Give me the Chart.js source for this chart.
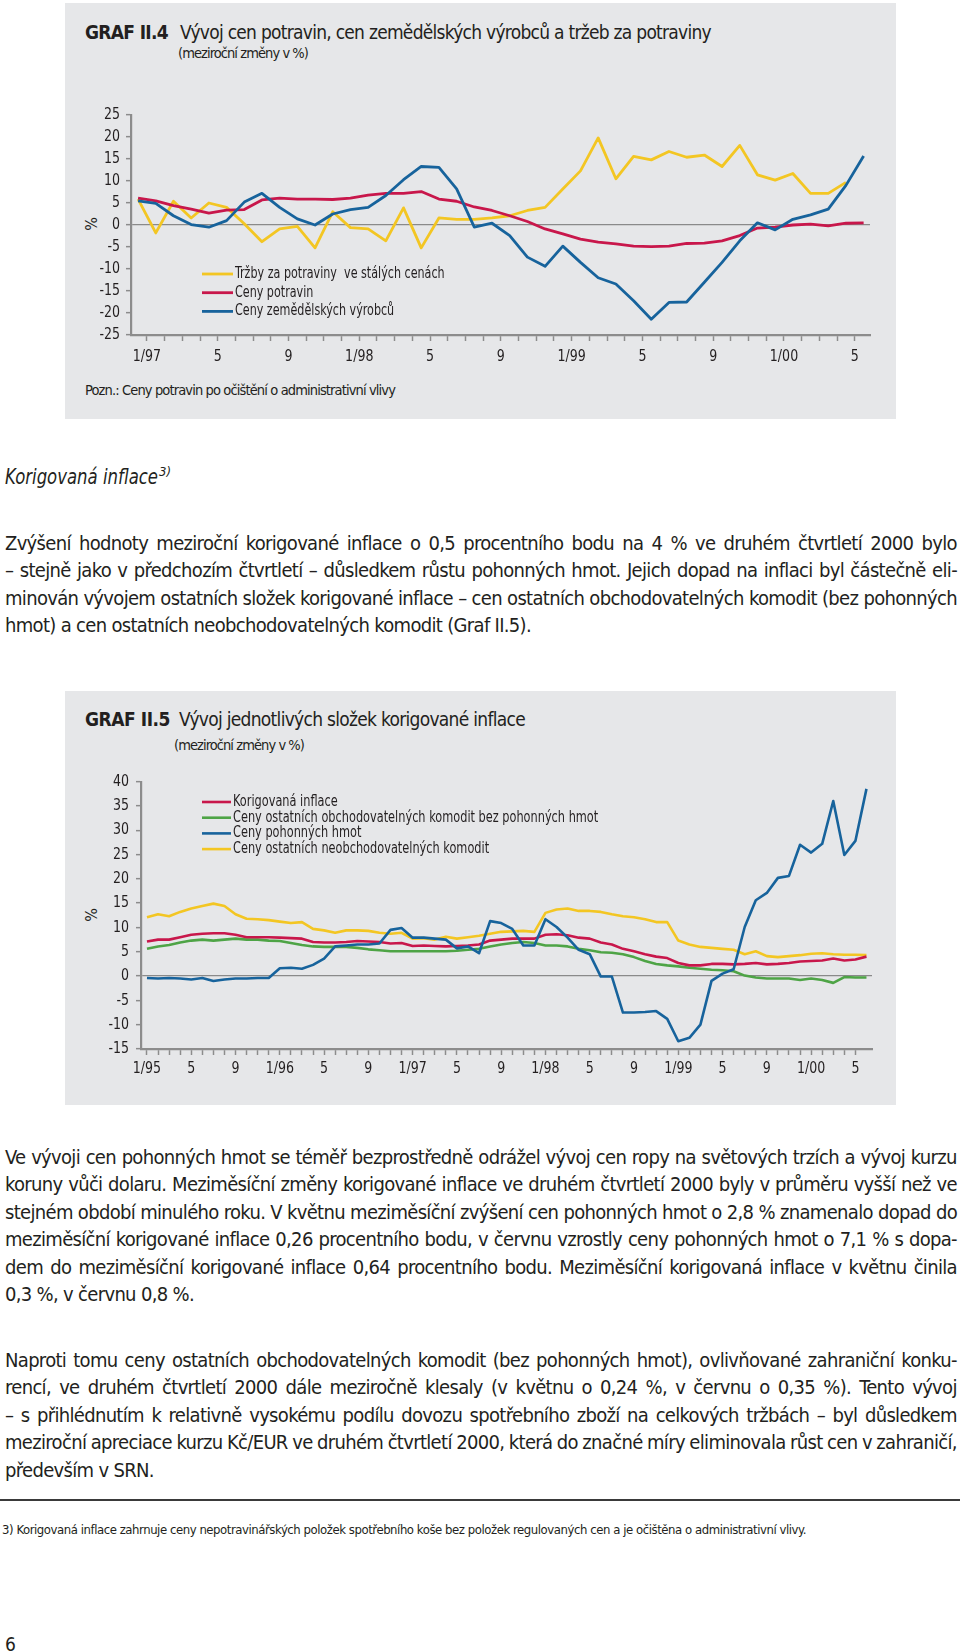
<!DOCTYPE html>
<html lang="cs"><head><meta charset="utf-8">
<title>Graf II.4 a II.5</title>
<script src="https://cdn.jsdelivr.net/npm/chart.js@4.4.1/dist/chart.umd.min.js"></script>
<style>
html,body{margin:0;padding:0;background:#fff}
body{position:relative;width:960px;height:1652px;overflow:hidden;font-family:"Liberation Sans Narrow","Arial Narrow","DejaVu Sans Condensed",sans-serif;color:#231f20}
.abs{position:absolute;white-space:nowrap}
.panel{position:absolute;left:65px;width:831px;background:#e6e7e9}
.ttlb{font-weight:bold;font-size:19px;line-height:24px}
.ttl{font-size:19px;line-height:24px}
.sub{font-size:14.5px;line-height:18px}
.pct{font-size:16px;line-height:18px;width:14px;text-align:center;transform:rotate(-90deg)}
.para{position:absolute;left:5px;width:952px;font-size:20px}
.para .ln{height:27.4px;line-height:27.4px;white-space:nowrap}
.para .jl{display:flex;justify-content:space-between}
canvas{position:absolute}
</style></head><body>

<div class="panel" style="top:3px;height:416px"></div>
<div class="panel" style="top:691px;height:414px"></div>

<span class="abs ttlb" id="t1b" style="left:85px;top:20px">GRAF II.4</span>
<span class="abs ttl" id="t1" style="left:180px;top:20px">Vývoj cen potravin, cen zemědělských výrobců a tržeb za potraviny</span>
<span class="abs sub" id="s1" style="left:178px;top:44px">(meziroční změny v %)</span>
<div class="abs pct" style="left:85px;top:215px">%</div>
<span class="abs sub" id="pozn" style="left:85px;top:381px">Pozn.: Ceny potravin po očištění o administrativní vlivy</span>

<span class="abs ttlb" id="t2b" style="left:85px;top:707px">GRAF II.5</span>
<span class="abs ttl" id="t2" style="left:179px;top:707px">Vývoj jednotlivých složek korigované inflace</span>
<span class="abs sub" id="s2" style="left:174px;top:736px">(meziroční změny v %)</span>
<div class="abs pct" style="left:85px;top:906px">%</div>

<canvas id="c1" width="831" height="275" style="left:65px;top:100px;width:831px;height:275px"></canvas>
<canvas id="c2" width="831" height="329" style="left:65px;top:760px;width:831px;height:329px"></canvas>

<span class="abs" style="left:5px;top:462px;font-size:22px;line-height:30px;font-style:italic"><span id="head" style="display:inline-block;transform-origin:0 50%">Korigovaná inflace</span><sup id="headsup" style="position:absolute;top:2px;font-size:13px;line-height:16px">3)</sup></span>

<div class="para" style="top:530px">
<div class="ln jl">Zvýšení hodnoty meziroční korigované inflace o 0,5 procentního bodu na 4 % ve druhém čtvrtletí 2000 bylo</div>
<div class="ln jl">– stejně jako v předchozím čtvrtletí – důsledkem růstu pohonných hmot. Jejich dopad na inflaci byl částečně eli-</div>
<div class="ln jl">minován vývojem ostatních složek korigované inflace – cen ostatních obchodovatelných komodit (bez pohonných</div>
<div class="ln"><span id="p1last">hmot) a cen ostatních neobchodovatelných komodit (Graf II.5).</span></div>
</div>

<div class="para" style="top:1144px">
<div class="ln jl">Ve vývoji cen pohonných hmot se téměř bezprostředně odrážel vývoj cen ropy na světových trzích a vývoj kurzu</div>
<div class="ln jl">koruny vůči dolaru. Meziměsíční změny korigované inflace ve druhém čtvrtletí 2000 byly v průměru vyšší než ve</div>
<div class="ln jl">stejném období minulého roku. V květnu meziměsíční zvýšení cen pohonných hmot o 2,8 % znamenalo dopad do</div>
<div class="ln jl">meziměsíční korigované inflace 0,26 procentního bodu, v červnu vzrostly ceny pohonných hmot o 7,1 % s dopa-</div>
<div class="ln jl">dem do meziměsíční korigované inflace 0,64 procentního bodu. Meziměsíční korigovaná inflace v květnu činila</div>
<div class="ln">0,3 %, v červnu 0,8 %.</div>
</div>

<div class="para" style="top:1347px">
<div class="ln jl">Naproti tomu ceny ostatních obchodovatelných komodit (bez pohonných hmot), ovlivňované zahraniční konku-</div>
<div class="ln jl">rencí, ve druhém čtvrtletí 2000 dále meziročně klesaly (v květnu o 0,24 %, v červnu o 0,35 %). Tento vývoj</div>
<div class="ln jl">– s přihlédnutím k relativně vysokému podílu dovozu spotřebního zboží na celkových tržbách – byl důsledkem</div>
<div class="ln jl">meziroční apreciace kurzu Kč/EUR ve druhém čtvrtletí 2000, která do značné míry eliminovala růst cen v zahraničí,</div>
<div class="ln">především v SRN.</div>
</div>

<div class="abs" style="left:0;top:1499px;width:960px;height:1.6px;background:#3a3a3a"></div>
<span class="abs" id="foot" style="left:2px;top:1522px;font-size:13px;line-height:16px">3) Korigovaná inflace zahrnuje ceny nepotravinářských položek spotřebního koše bez položek regulovaných cen a je očištěna o administrativní vlivy.</span>
<span class="abs" style="left:5px;top:1633px;font-size:19px;line-height:22px">6</span>

<script>
// ---------- text fitting to reference widths ----------
function fit(id, target){
  const el = document.getElementById(id);
  el.style.letterSpacing = '0px';
  const w = el.getBoundingClientRect().width;
  el.style.letterSpacing = ((target - w) / el.textContent.length) + 'px';
}
fit('t1b', 83); fit('t1', 531); fit('s1', 130);
fit('t2b', 85); fit('t2', 346); fit('s2', 130);
fit('pozn', 310); fit('foot', 804);
(function(){
  const h = document.getElementById('head');
  const w = h.getBoundingClientRect().width;
  const s = 153 / w;
  h.style.transform = 'scaleX(' + s + ')';
  document.getElementById('headsup').style.left = (153 + 1) + 'px';
  const el = document.getElementById('p1last');
  const wl = el.getBoundingClientRect().width;
  const ls = (526 - wl) / el.textContent.length;
  document.querySelectorAll('.para').forEach(p => p.style.letterSpacing = ls + 'px');
  document.querySelectorAll('.jl').forEach(l => {
    const words = l.textContent.trim().split(/\s+/);
    l.textContent = '';
    words.forEach(wd => { const sp = document.createElement('span'); sp.textContent = wd; l.appendChild(sp); });
  });
})();

// ---------- data ----------
const xLabels1 = ['1/97','5','9','1/98','5','9','1/99','5','9','1/00','5'];
const legend1 = ['Tržby za potraviny  ve stálých cenách', 'Ceny potravin', 'Ceny zemědělských výrobců'];
const trzby = [5.9, -1.8, 5.4, 1.6, 5.0, 4.0, 0.3, -3.8, -0.9, -0.3, -5.2, 3.0, -0.6, -0.9, -3.6, 3.9, -5.2, 1.6, 1.3, 1.3,
  1.6, 2.1, 3.3, 4.0, 8.2, 12.3, 19.8, 10.5, 15.6, 14.8, 16.7, 15.4, 15.9, 13.3, 18.1, 11.4, 10.2, 11.7, 7.2, 7.2, 9.7, null];
const cenyPotravin = [6.1, 5.5, 4.4, 3.6, 2.7, 3.4, 3.5, 5.7, 6.1, 5.9, 5.9, 5.8, 6.1, 6.8, 7.2, 7.2, 7.6, 5.9, 5.4, 4.1,
  3.3, 2.1, 0.8, -0.9, -2.0, -3.2, -3.9, -4.3, -4.8, -4.9, -4.8, -4.2, -4.1, -3.6, -2.4, -0.7, -0.5, 0.0, 0.2, -0.2, 0.4, 0.5];
const cenyZemed = [5.5, 4.9, 2.1, 0.1, -0.5, 1.0, 5.2, 7.2, 4.0, 1.4, 0.0, 2.5, 3.5, 4.0, 6.7, 10.3, 13.3, 13.1, 8.2, -0.5,
  0.4, -2.4, -7.3, -9.4, -4.8, -8.5, -12.0, -13.4, -17.2, -21.4, -17.6, -17.5, -13.0, -8.5, -3.6, 0.5, -1.1, 1.3, 2.3, 3.6, 9.0, 15.7];

const xLabels2 = ['1/95','5','9','1/96','5','9','1/97','5','9','1/98','5','9','1/99','5','9','1/00','5'];
const legend2 = ['Korigovaná inflace', 'Ceny ostatních obchodovatelných komodit bez pohonných hmot',
  'Ceny pohonných hmot', 'Ceny ostatních neobchodovatelných komodit'];
const korInfl = [7.1, 7.5, 7.5, 8.0, 8.5, 8.7, 8.8, 8.8, 8.5, 8.0, 8.0, 8.0, 7.9, 7.8, 7.7, 7.0, 6.9, 6.9, 7.0, 7.2,
  7.1, 7.0, 6.7, 6.8, 6.2, 6.3, 6.2, 6.1, 6.2, 6.3, 6.5, 7.3, 7.5, 7.7, 7.7, 7.7, 8.5, 8.6, 8.4, 7.9,
  7.7, 6.9, 6.5, 5.6, 5.1, 4.5, 4.0, 3.7, 2.7, 2.2, 2.2, 2.5, 2.5, 2.4, 2.5, 2.7, 2.4, 2.5, 2.7, 3.0,
  3.1, 3.2, 3.6, 3.2, 3.4, 4.0];
const obchodovatelne = [5.6, 6.1, 6.4, 6.9, 7.3, 7.5, 7.3, 7.5, 7.7, 7.5, 7.5, 7.3, 7.2, 6.8, 6.4, 6.1, 6.0, 6.0, 6.0, 5.8,
  5.5, 5.3, 5.1, 5.1, 5.1, 5.1, 5.1, 5.1, 5.2, 5.4, 5.6, 6.1, 6.5, 6.8, 7.0, 6.8, 6.3, 6.3, 6.1, 5.6,
  5.3, 4.9, 4.8, 4.5, 3.9, 3.1, 2.5, 2.2, 2.0, 1.7, 1.5, 1.3, 1.2, 1.0, 0.1, -0.3, -0.5, -0.5, -0.5, -0.8,
  -0.5, -0.8, -1.4, -0.2, -0.3, -0.3];
const pohonneHmoty = [-0.4, -0.5, -0.4, -0.5, -0.7, -0.4, -1.0, -0.7, -0.5, -0.5, -0.4, -0.4, 1.6, 1.7, 1.5, 2.3, 3.6, 6.1, 6.3, 6.5,
  6.5, 6.7, 9.5, 9.9, 7.9, 7.9, 7.7, 7.5, 5.7, 6.1, 4.7, 11.3, 10.9, 9.7, 6.3, 6.3, 11.7, 10.1, 7.9, 5.4,
  4.5, -0.1, -0.1, -7.5, -7.5, -7.4, -7.2, -8.8, -13.4, -12.7, -10.0, -1.0, 0.5, 1.4, 10.1, 15.6, 17.1, 20.2, 20.6, 27.0,
  25.4, 27.2, 36.0, 24.9, 27.8, 38.5];
const neobchodovatelne = [12.1, 12.7, 12.3, 13.2, 13.9, 14.4, 14.9, 14.4, 12.7, 11.8, 11.7, 11.5, 11.2, 10.9, 11.1, 9.7, 9.4, 8.9, 9.4, 9.4,
  9.3, 8.9, 8.7, 8.9, 7.7, 7.8, 7.5, 8.1, 7.7, 8.0, 8.3, 8.7, 9.1, 9.2, 9.3, 9.1, 13.0, 13.7, 13.9, 13.4,
  13.4, 13.2, 12.7, 12.3, 12.1, 11.7, 11.1, 11.1, 7.3, 6.5, 6.0, 5.8, 5.6, 5.4, 4.5, 5.1, 4.1, 3.9, 4.1, 4.3,
  4.6, 4.7, 4.5, 4.4, 4.4, 4.3];

// ---------- chart helpers ----------
const FONT = '"Liberation Sans Narrow","Arial Narrow","DejaVu Sans Condensed",sans-serif';
Chart.defaults.font.family = FONT;
Chart.defaults.font.size = 15;
Chart.defaults.color = '#231f20';
const AXIS = '#8c8c8c';
const pts = arr => arr.map((v, i) => ({ x: i, y: v })).filter(p => p.y !== null);

function condText(ctx, txt, x, y, size, sx, align) {
  ctx.save();
  ctx.font = size + 'px ' + FONT;
  ctx.fillStyle = '#231f20';
  ctx.textBaseline = 'middle';
  ctx.textAlign = align;
  ctx.translate(x, y);
  ctx.scale(sx, 1);
  ctx.fillText(txt, 0, 0);
  ctx.restore();
}

// legend drawn inside the plot, from the dataset labels/colours
const inLegend = {
  id: 'inLegend',
  afterDraw(chart, args, o) {
    const ctx = chart.ctx;
    chart.data.datasets.forEach((ds, i) => {
      const y = o.y0 + i * o.dy;
      ctx.save();
      ctx.strokeStyle = ds.borderColor; ctx.lineWidth = o.lw;
      ctx.beginPath(); ctx.moveTo(o.x0, y); ctx.lineTo(o.x1, y); ctx.stroke();
      ctx.restore();
      condText(ctx, ds.label, o.x1 + 2, y, o.size, o.sx, 'left');
    });
  }
};
// tick labels drawn in a condensed face, at the positions of the library's ticks
const condTicks = {
  id: 'condTicks',
  afterDraw(chart, args, o) {
    const ctx = chart.ctx, xs = chart.scales.x, ys = chart.scales.y;
    ys.ticks.forEach(t => condText(ctx, t.label, ys.right - o.ygap, ys.getPixelForValue(t.value), o.size, o.sx, 'right'));
    xs.ticks.forEach(t => { if (t.label) condText(ctx, t.label, xs.getPixelForValue(t.value), xs.top + o.xgap, o.size, o.sx, 'center'); });
  }
};

function monthAxis(min, max, labels, offset, height) {
  const nTicks = (labels.length - 1) * 4 + 1;
  return {
    type: 'linear', min, max,
    afterBuildTicks: s => { s.ticks = Array.from({ length: nTicks }, (_, k) => ({ value: k + offset })); },
    afterFit: s => { s.height = height; },
    ticks: { display: false, autoSkip: false, maxRotation: 0, minRotation: 0,
      callback: (v, i) => (i % 4 === 0 ? labels[i / 4] : '') },
    grid: { drawOnChartArea: false, drawTicks: true, tickLength: 6, tickColor: AXIS, tickWidth: 1.5 },
    border: { display: true, color: AXIS, width: 2.2 }
  };
}
function valueAxis(min, max, width) {
  return {
    min, max, afterFit: s => { s.width = width; },
    ticks: { display: false, stepSize: 5 },
    grid: { drawOnChartArea: true, color: c => (c.tick && c.tick.value === 0 ? '#8a8a8a' : 'rgba(0,0,0,0)'),
      lineWidth: 1.3, tickLength: 5, tickColor: AXIS, tickWidth: 1.5 },
    border: { display: true, color: AXIS, width: 2.2 }
  };
}
const lineDs = (label, data, color, order, w) => ({ label, data: pts(data), borderColor: color, backgroundColor: color,
  borderWidth: w, pointRadius: 0, tension: 0, borderJoinStyle: 'round', order });

new Chart(document.getElementById('c1'), {
  type: 'line',
  data: { datasets: [
    lineDs(legend1[0], trzby, '#f3c623', 2, 2.8),
    lineDs(legend1[1], cenyPotravin, '#c8174b', 1, 2.8),
    lineDs(legend1[2], cenyZemed, '#17639c', 0, 2.8)
  ] },
  options: {
    responsive: false, animation: false,
    layout: { padding: { top: 15, right: 26, bottom: 0, left: 0 } },
    scales: { x: monthAxis(-0.4, 41.36, xLabels1, 0.5, 40), y: valueAxis(-25, 25, 66) },
    plugins: { legend: { display: false }, tooltip: { enabled: false },
      inLegend: { x0: 137, x1: 168, y0: 174, dy: 18.7, lw: 2.8, size: 15.5, sx: 0.8 },
      condTicks: { size: 16.5, sx: 0.85, ygap: 11, xgap: 22 } }
  },
  plugins: [inLegend, condTicks]
});

new Chart(document.getElementById('c2'), {
  type: 'line',
  data: { datasets: [
    lineDs(legend2[0], korInfl, '#c8174b', 1, 2.6),
    lineDs(legend2[1], obchodovatelne, '#4ea446', 2, 2.6),
    lineDs(legend2[2], pohonneHmoty, '#17639c', 0, 2.6),
    lineDs(legend2[3], neobchodovatelne, '#f3c623', 3, 2.6)
  ] },
  options: {
    responsive: false, animation: false,
    layout: { padding: { top: 21.6, right: 24, bottom: 0, left: 0 } },
    scales: { x: monthAxis(-0.54, 65.5, xLabels2, 0, 40), y: valueAxis(-15, 40, 76) },
    plugins: { legend: { display: false }, tooltip: { enabled: false },
      inLegend: { x0: 137, x1: 166, y0: 42, dy: 15.7, lw: 2.6, size: 15, sx: 0.84 },
      condTicks: { size: 16.5, sx: 0.85, ygap: 12, xgap: 20 } }
  },
  plugins: [inLegend, condTicks]
});
</script>
</body></html>
